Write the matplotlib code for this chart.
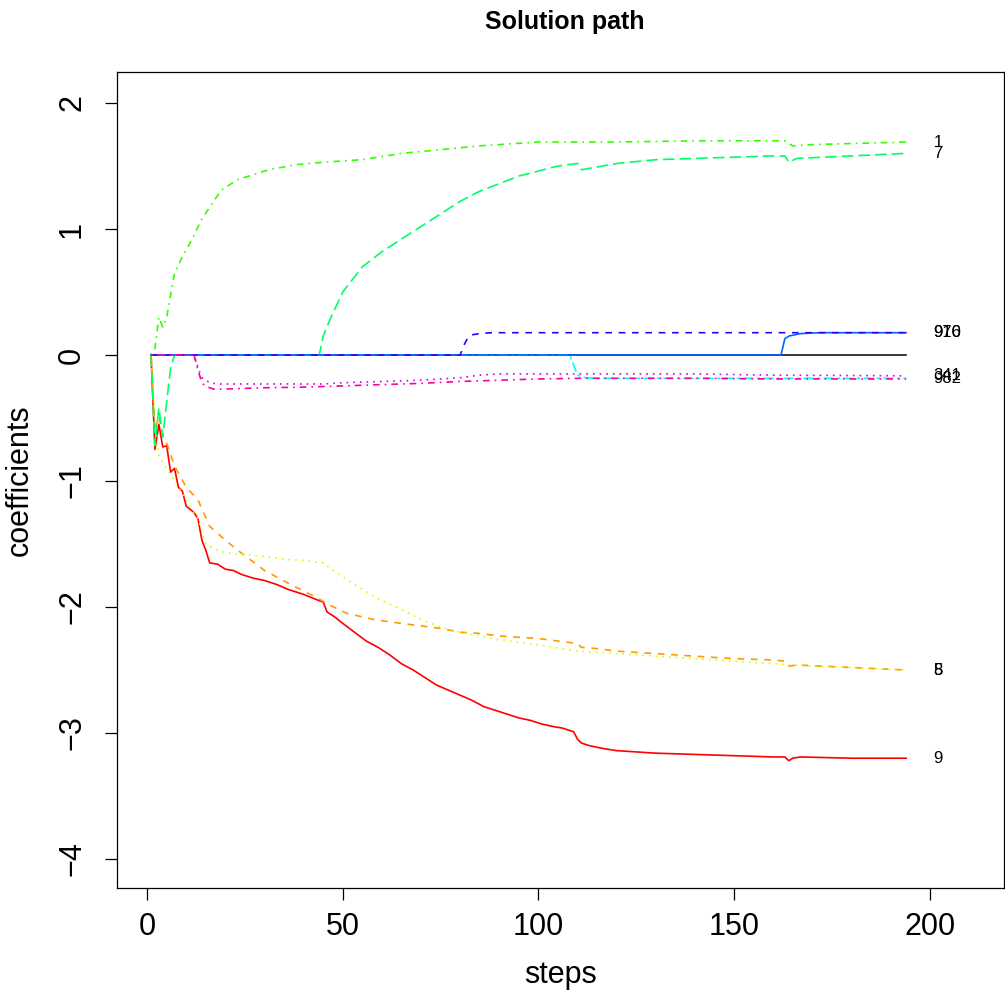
import matplotlib
matplotlib.use("Agg")
import matplotlib.pyplot as plt

plt.rcParams['font.family'] = ['Liberation Sans', 'DejaVu Sans']

# coefficient paths (step, value) for the active variables
steps_9 = [1, 2, 3, 4, 5, 6, 7, 8, 9, 10, 12, 13, 14, 15, 16, 18, 20, 22, 24, 27, 30, 33, 36, 40, 44,
           45, 46, 48, 50, 53, 56, 59, 62, 65, 68, 71, 74, 77, 80, 83, 86, 89, 92, 95, 98, 101, 104,
           106, 108, 109, 110, 111, 113, 116, 120, 125, 130, 140, 150, 160, 163, 164, 165, 167, 180, 194]
coef_9 = [0, -0.75, -0.55, -0.73, -0.72, -0.93, -0.9, -1.05, -1.08, -1.2, -1.25, -1.3, -1.47, -1.55,
          -1.65, -1.66, -1.7, -1.71, -1.74, -1.77, -1.79, -1.82, -1.86, -1.9, -1.95, -1.96, -2.04,
          -2.08, -2.13, -2.2, -2.27, -2.32, -2.38, -2.45, -2.5, -2.56, -2.62, -2.66, -2.7, -2.74,
          -2.79, -2.82, -2.85, -2.88, -2.9, -2.93, -2.95, -2.96, -2.98, -2.99, -3.05, -3.08, -3.1,
          -3.12, -3.14, -3.15, -3.16, -3.17, -3.18, -3.19, -3.19, -3.22, -3.2, -3.19, -3.2, -3.2]

steps_5 = [1, 2, 3, 4, 5, 7, 10, 13, 16, 20, 24, 30, 36, 43, 47, 51, 58, 65, 70, 75, 80, 85, 90, 95,
           100, 105, 110, 111, 115, 120, 130, 140, 150, 160, 163, 164, 166, 180, 194]
coef_5 = [0, -0.6, -0.48, -0.65, -0.7, -0.88, -1.05, -1.15, -1.36, -1.47, -1.57, -1.71, -1.81, -1.92,
          -1.99, -2.05, -2.1, -2.13, -2.15, -2.17, -2.2, -2.21, -2.23, -2.24, -2.25, -2.27, -2.29,
          -2.32, -2.33, -2.35, -2.37, -2.39, -2.41, -2.42, -2.43, -2.47, -2.46, -2.48, -2.5]

steps_8 = [1, 2, 3, 5, 7, 10, 13, 15, 18, 20, 24, 30, 35, 40, 45, 48, 52, 56, 60, 65, 70, 75, 80, 90,
           100, 110, 120, 130, 140, 150, 160, 170, 180, 194]
coef_8 = [0, -0.5, -0.8, -0.9, -1.0, -1.15, -1.3, -1.5, -1.55, -1.57, -1.58, -1.6, -1.62, -1.63, -1.65,
          -1.72, -1.8, -1.88, -1.95, -2.02, -2.1, -2.16, -2.2, -2.26, -2.3, -2.35, -2.37, -2.39, -2.41,
          -2.43, -2.45, -2.47, -2.48, -2.5]

steps_1 = [1, 2, 3, 4, 5, 7, 9, 11, 14, 17, 19, 23, 27, 31, 38, 45, 55, 65, 75, 85, 100, 120, 140,
           163, 165, 170, 194]
coef_1 = [0, 0.05, 0.3, 0.22, 0.3, 0.65, 0.78, 0.89, 1.08, 1.22, 1.31, 1.39, 1.43, 1.47, 1.51, 1.53,
          1.55, 1.6, 1.63, 1.66, 1.69, 1.69, 1.7, 1.7, 1.66, 1.67, 1.69]

steps_7 = [1, 2, 3, 4, 6, 7, 44, 45, 47, 50, 55, 60, 65, 70, 75, 80, 85, 90, 95, 100, 105, 110, 111,
           120, 130, 140, 150, 160, 163, 164, 166, 194]
coef_7 = [0, -0.72, -0.42, -0.65, -0.1, 0, 0, 0.15, 0.3, 0.5, 0.7, 0.82, 0.92, 1.02, 1.12, 1.22, 1.3,
          1.36, 1.42, 1.46, 1.5, 1.52, 1.47, 1.52, 1.55, 1.56, 1.57, 1.58, 1.58, 1.53, 1.56, 1.6]

steps_cy = [1, 108, 109, 110, 112, 115, 194]
coef_cy = [0, 0, -0.08, -0.16, -0.18, -0.185, -0.185]

steps_910 = [1, 162, 163, 164, 167, 172, 194]
coef_910 = [0, 0, 0.13, 0.15, 0.17, 0.177, 0.177]

steps_976 = [1, 80, 81, 82, 83, 85, 88, 194]
coef_976 = [0, 0, 0.08, 0.14, 0.16, 0.17, 0.177, 0.177]

steps_341 = [1, 12, 13, 14, 16, 18, 20, 25, 30, 40, 45, 50, 60, 70, 80, 85, 90, 100, 120, 140, 160, 194]
coef_341 = [0, 0, -0.1, -0.18, -0.22, -0.23, -0.23, -0.23, -0.23, -0.23, -0.23, -0.22, -0.21, -0.2,
            -0.18, -0.16, -0.15, -0.15, -0.15, -0.15, -0.16, -0.165]

steps_982 = [1, 12, 13, 14, 15, 17, 20, 25, 30, 40, 50, 60, 70, 80, 90, 100, 110, 120, 140, 160, 194]
coef_982 = [0, 0, -0.12, -0.22, -0.25, -0.27, -0.27, -0.265, -0.26, -0.255, -0.245, -0.235, -0.225,
            -0.21, -0.2, -0.19, -0.185, -0.185, -0.185, -0.19, -0.19]

# variables that never leave zero
steps_zero = [1, 194]
coef_zero = [0, 0]

paths = [
    (steps_9, coef_9, "#FF0000", "-", "9"),
    (steps_5, coef_5, "#FF9900", (0, (4, 4)), "5"),
    (steps_8, coef_8, "#CCFF00", (0, (1, 3)), "8"),
    (steps_1, coef_1, "#33FF00", (0, (1, 3, 4, 3)), "1"),
    (steps_7, coef_7, "#00FF66", (0, (7, 3)), "7"),
    (steps_cy, coef_cy, "#00FFFF", (0, (2, 2, 6, 2)), None),
    (steps_910, coef_910, "#0066FF", "-", "910"),
    (steps_976, coef_976, "#3300FF", (0, (4, 4)), "976"),
    (steps_341, coef_341, "#CC00FF", (0, (1, 3)), "341"),
    (steps_982, coef_982, "#FF0099", (0, (1, 3, 4, 3)), "982"),
]

fig = plt.figure(figsize=(10.05, 9.96), dpi=100)
ax = fig.add_axes([117 / 1005, 1 - 888 / 996, 887 / 1005, 816 / 996])

ax.plot(steps_zero, coef_zero, color="black", lw=1.1)
for st, cf, col, ls, lab in paths:
    ax.plot(st, cf, color=col, linestyle=ls, lw=1.2)
    if lab:
        ax.text(201, cf[-1], lab, fontsize=12, ha="left", va="center")

ax.set_xlim(-7.7, 219)
ax.set_ylim(-4.23, 2.246)
ax.set_xticks([0, 50, 100, 150, 200])
ax.set_yticks([-4, -3, -2, -1, 0, 1, 2])
ax.tick_params(axis="both", direction="out", length=8.6, width=0.9, labelsize=22)
ax.tick_params(axis="x", pad=9)
ax.tick_params(axis="y", pad=13)
for t in ax.get_yticklabels():
    t.set_rotation(90)
    t.set_va("center")
for s in ax.spines.values():
    s.set_linewidth(0.9)

fig.text(0.5 * (117 + 1004) / 1005, 1 - 975 / 996, "steps", fontsize=22, ha="center", va="center")
fig.text(20 / 1005, 1 - 480 / 996, "coefficients", fontsize=22, ha="center", va="center", rotation=90)
fig.text(565 / 1005, 1 - 22 / 996, "Solution path", fontsize=18, fontweight="bold",
         ha="center", va="center")

fig.savefig("out.png", dpi=100)
